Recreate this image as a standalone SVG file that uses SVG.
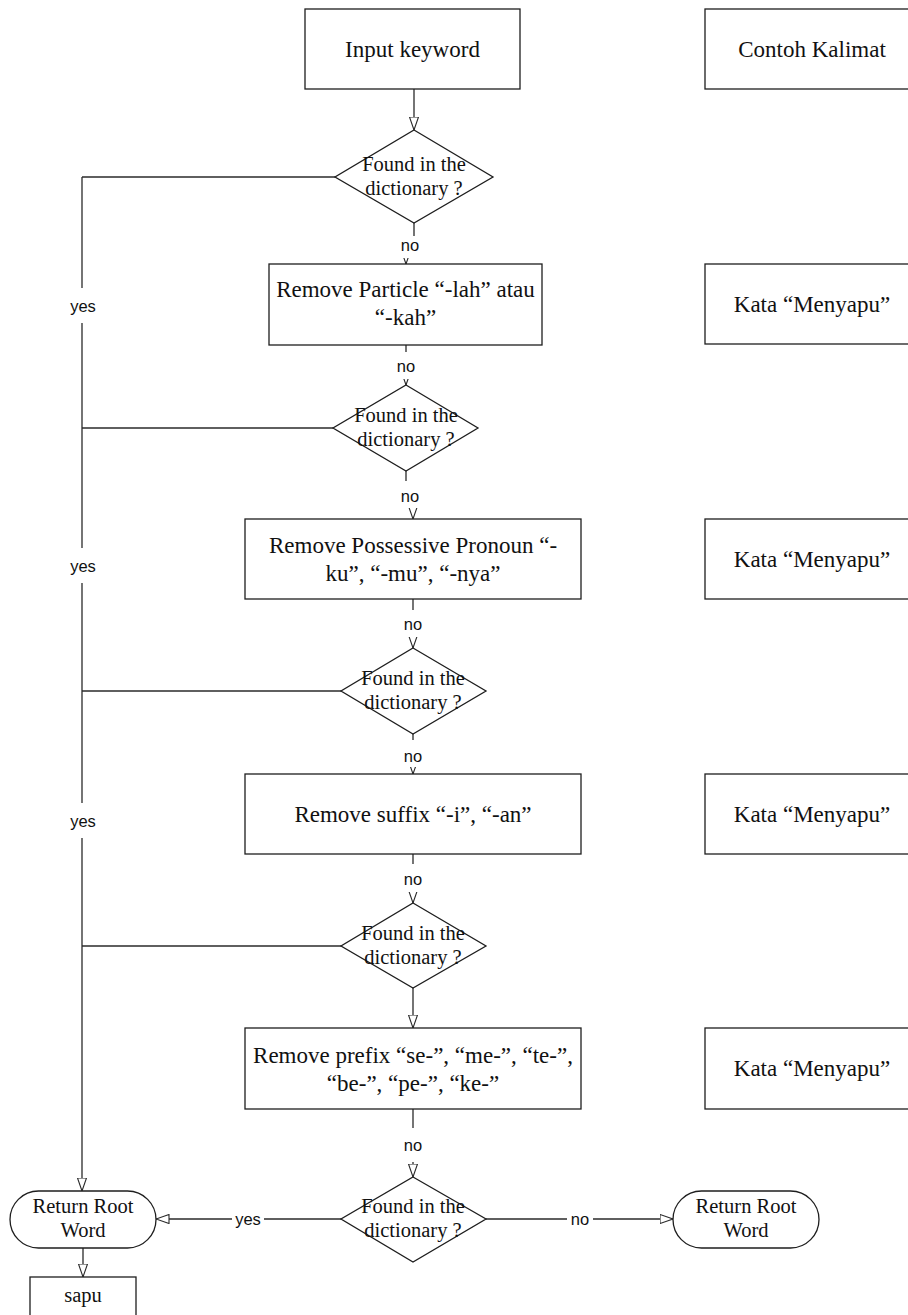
<svg xmlns="http://www.w3.org/2000/svg" width="908" height="1315" viewBox="0 0 908 1315">
  <style>
    .shape { fill: #ffffff; stroke: #1e1e1e; stroke-width: 1.3; }
    .conn { fill: none; stroke: #2a2a2a; stroke-width: 1.3; }
    .box { font-family: "Liberation Serif", "Times New Roman", serif; font-size: 23px; fill: #111; text-anchor: middle; }
    .small { font-family: "Liberation Serif", "Times New Roman", serif; font-size: 20.5px; fill: #111; text-anchor: middle; }
    .lbl { font-family: "Liberation Sans", Arial, sans-serif; font-size: 16.5px; fill: #111; text-anchor: middle; }
    .lblbg { fill: #ffffff; stroke: none; }
  </style>
  <defs>
    <marker id="arrow" viewBox="0 0 14 10" refX="13.5" refY="5" markerWidth="14" markerHeight="10" orient="auto" markerUnits="userSpaceOnUse">
      <path d="M0.5,0.5 L13.5,5 L0.5,9.5 Z" fill="#ffffff" stroke="#2a2a2a" stroke-width="1.1"/>
    </marker>
  </defs>

  <rect width="908" height="1315" fill="#ffffff"/>

  <!-- connectors -->
  <g id="connectors">
    <path class="conn" d="M414,89 V130" marker-end="url(#arrow)"/>
    <path class="conn" d="M414,223 V244 H406 V264" marker-end="url(#arrow)"/>
    <path class="conn" d="M406,345 V385" marker-end="url(#arrow)"/>
    <path class="conn" d="M406,471 V495 H413 V519" marker-end="url(#arrow)"/>
    <path class="conn" d="M413,599 V648" marker-end="url(#arrow)"/>
    <path class="conn" d="M413,734 V774" marker-end="url(#arrow)"/>
    <path class="conn" d="M413,854 V903" marker-end="url(#arrow)"/>
    <path class="conn" d="M413,988 V1028" marker-end="url(#arrow)"/>
    <path class="conn" d="M413,1109 V1177" marker-end="url(#arrow)"/>

    <!-- "yes" branches gathered on the left rail -->
    <path class="conn" d="M335,177 H82"/>
    <path class="conn" d="M333,428 H82"/>
    <path class="conn" d="M341,691 H82"/>
    <path class="conn" d="M341,946 H82"/>
    <path class="conn" d="M82,177 V1191" marker-end="url(#arrow)"/>

    <path class="conn" d="M341,1219 H156" marker-end="url(#arrow)"/>
    <path class="conn" d="M486,1219 H673" marker-end="url(#arrow)"/>
    <path class="conn" d="M83,1248 V1277" marker-end="url(#arrow)"/>

    <!-- connector labels -->
    <rect class="lblbg" x="398" y="236" width="24" height="22"/>
    <text class="lbl" x="410" y="251">no</text>
    <rect class="lblbg" x="394" y="352" width="24" height="27"/>
    <text class="lbl" x="406" y="372">no</text>
    <rect class="lblbg" x="398" y="481" width="24" height="27"/>
    <text class="lbl" x="410" y="502">no</text>
    <rect class="lblbg" x="401" y="610" width="24" height="27"/>
    <text class="lbl" x="413" y="630">no</text>
    <rect class="lblbg" x="401" y="740" width="24" height="27"/>
    <text class="lbl" x="413" y="762">no</text>
    <rect class="lblbg" x="401" y="864" width="24" height="28"/>
    <text class="lbl" x="413" y="885">no</text>
    <rect class="lblbg" x="401" y="1128" width="24" height="34"/>
    <text class="lbl" x="413" y="1151">no</text>

    <rect class="lblbg" x="68" y="288" width="30" height="35"/>
    <text class="lbl" x="83" y="312">yes</text>
    <rect class="lblbg" x="68" y="548" width="30" height="35"/>
    <text class="lbl" x="83" y="572">yes</text>
    <rect class="lblbg" x="68" y="803" width="30" height="35"/>
    <text class="lbl" x="83" y="827">yes</text>

    <rect class="lblbg" x="232" y="1208" width="32" height="22"/>
    <text class="lbl" x="248" y="1225">yes</text>
    <rect class="lblbg" x="567" y="1208" width="26" height="22"/>
    <text class="lbl" x="580" y="1225">no</text>
  </g>

  <!-- main flow -->
  <g id="input-keyword">
    <rect class="shape" x="305" y="9" width="215" height="80"/>
    <text class="box" x="412.5" y="57">Input keyword</text>
  </g>

  <g id="check-1">
    <polygon class="shape" points="414,130 493,177 414,223 335,177"/>
    <text class="small" x="414" y="171">Found in the</text>
    <text class="small" x="414" y="195">dictionary ?</text>
  </g>

  <g id="remove-particle">
    <rect class="shape" x="269" y="264" width="273" height="81"/>
    <text class="box" x="405.5" y="297">Remove Particle “-lah” atau</text>
    <text class="box" x="405.5" y="325">“-kah”</text>
  </g>

  <g id="check-2">
    <polygon class="shape" points="406,385 478,428 406,471 333,428"/>
    <text class="small" x="406" y="422">Found in the</text>
    <text class="small" x="406" y="446">dictionary ?</text>
  </g>

  <g id="remove-possessive">
    <rect class="shape" x="245" y="519" width="336" height="80"/>
    <text class="box" x="413" y="553">Remove Possessive Pronoun “-</text>
    <text class="box" x="413" y="581">ku”, “-mu”, “-nya”</text>
  </g>

  <g id="check-3">
    <polygon class="shape" points="413,648 486,691 413,734 341,691"/>
    <text class="small" x="413" y="685">Found in the</text>
    <text class="small" x="413" y="709">dictionary ?</text>
  </g>

  <g id="remove-suffix">
    <rect class="shape" x="245" y="774" width="336" height="80"/>
    <text class="box" x="413" y="822">Remove suffix “-i”, “-an”</text>
  </g>

  <g id="check-4">
    <polygon class="shape" points="413,903 486,946 413,988 341,946"/>
    <text class="small" x="413" y="940">Found in the</text>
    <text class="small" x="413" y="964">dictionary ?</text>
  </g>

  <g id="remove-prefix">
    <rect class="shape" x="245" y="1028" width="336" height="81"/>
    <text class="box" x="413" y="1063">Remove prefix “se-”, “me-”, “te-”,</text>
    <text class="box" x="413" y="1091">“be-”, “pe-”, “ke-”</text>
  </g>

  <g id="check-5">
    <polygon class="shape" points="413,1177 486,1219 413,1262 341,1219"/>
    <text class="small" x="413" y="1213">Found in the</text>
    <text class="small" x="413" y="1237">dictionary ?</text>
  </g>

  <g id="return-root-left">
    <rect class="shape" x="10" y="1191" width="146" height="57" rx="28.5" ry="28.5"/>
    <text class="small" x="83" y="1213">Return Root</text>
    <text class="small" x="83" y="1237">Word</text>
  </g>

  <g id="return-root-right">
    <rect class="shape" x="673" y="1191" width="146" height="57" rx="28.5" ry="28.5"/>
    <text class="small" x="746" y="1213">Return Root</text>
    <text class="small" x="746" y="1237">Word</text>
  </g>

  <g id="result-sapu">
    <rect class="shape" x="30" y="1277" width="106" height="50"/>
    <text class="small" x="83" y="1302">sapu</text>
  </g>

  <!-- example column -->
  <g id="example-header">
    <rect class="shape" x="705" y="9" width="215" height="80"/>
    <text class="box" x="812" y="57">Contoh Kalimat</text>
  </g>
  <g id="example-1">
    <rect class="shape" x="705" y="264" width="215" height="80"/>
    <text class="box" x="812" y="312">Kata “Menyapu”</text>
  </g>
  <g id="example-2">
    <rect class="shape" x="705" y="519" width="215" height="80"/>
    <text class="box" x="812" y="567">Kata “Menyapu”</text>
  </g>
  <g id="example-3">
    <rect class="shape" x="705" y="774" width="215" height="80"/>
    <text class="box" x="812" y="822">Kata “Menyapu”</text>
  </g>
  <g id="example-4">
    <rect class="shape" x="705" y="1028" width="215" height="81"/>
    <text class="box" x="812" y="1076">Kata “Menyapu”</text>
  </g>
</svg>
